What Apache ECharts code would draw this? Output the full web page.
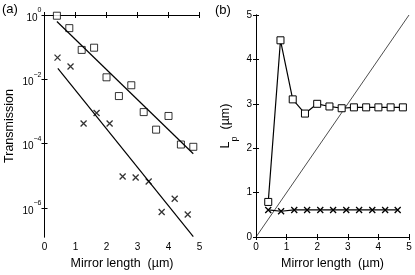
<!DOCTYPE html>
<html><head><meta charset="utf-8">
<script src="https://cdn.jsdelivr.net/npm/echarts@6/dist/echarts.min.js"></script>
<style>html,body{margin:0;padding:0;background:#fff}#c{width:415px;height:275px}</style>
</head><body><div id="c"></div>
<script>
// Panel (a): transmission vs mirror length
const sqX = [0.4, 0.8, 1.2, 1.6, 2.0, 2.4, 2.8, 3.2, 3.6, 4.0, 4.4, 4.8];
const sqT = [0.95, 0.39, 0.082, 0.096, 0.0115, 0.0030, 0.0065, 0.00095, 0.00027, 0.00072, 9.3e-5, 7.9e-5];
const crX = [0.42, 0.84, 1.26, 1.68, 2.1, 2.52, 2.94, 3.36, 3.78, 4.2, 4.62];
const crT = [0.047, 0.025, 4.2e-4, 8.9e-4, 4.2e-4, 9.4e-6, 8.7e-6, 6.6e-6, 7.4e-7, 1.9e-6, 6.2e-7];
const fitUpX = [0.4, 4.8];
const fitUpT = [0.63, 4.8e-5];
const fitLoX = [0.43, 4.8];
const fitLoT = [0.022, 1.26e-7];
const logTicks = [0, -2, -4, -6];
// Panel (b): Lp vs mirror length
const lpSqX = [0.4, 0.8, 1.2, 1.6, 2.0, 2.4, 2.8, 3.2, 3.6, 4.0, 4.4, 4.8];
const lpSq = [0.79, 4.43, 3.1, 2.78, 3.0, 2.94, 2.90, 2.92, 2.92, 2.92, 2.92, 2.92];
const lpCrX = [0.4, 0.82, 1.25, 1.67, 2.1, 2.52, 2.95, 3.37, 3.8, 4.22, 4.63];
const lpCr = [0.61, 0.58, 0.61, 0.61, 0.61, 0.61, 0.61, 0.61, 0.61, 0.61, 0.61];
const diagX = [0, 5];
const diagY = [0, 5];

const FONT = 'Liberation Sans';
const zip = (xs, ys, f) => xs.map((x, i) => [x, f ? f(ys[i]) : ys[i]]);
const lg = v => Math.log10(v);
const CROSS = 'path://M0,0L10,10M10,0L0,10';

const tickStyle = {show: true, inside: true, length: 3, lineStyle: {color: '#000', width: 1}};
const lineStyle = {show: true, lineStyle: {color: '#000', width: 1}};
const lbl = {color: '#000', fontFamily: FONT, fontSize: 10};
const nameStyle = {color: '#000', fontFamily: FONT, fontSize: 12.5};

function xAx(grid, pos, showLbl) {
  return {type: 'value', gridIndex: grid, position: pos, min: 0, max: 5, interval: 1,
    axisLine: lineStyle, axisTick: tickStyle, splitLine: {show: false},
    axisLabel: showLbl ? Object.assign({margin: 5}, lbl) : {show: false},
    name: showLbl ? 'Mirror length  (µm)' : '', nameLocation: 'middle', nameGap: 20,
    nameTextStyle: nameStyle};
}

const option = {
  animation: false,
  backgroundColor: '#fff',
  textStyle: {fontFamily: FONT},
  grid: [
    {left: 44.5, top: 15, width: 155, height: 229},
    {left: 256, top: 15, width: 153, height: 228.5}
  ],
  graphic: [
    {type: 'text', left: 2, top: 3, style: {text: '(a)', fontFamily: FONT, fontSize: 13, fill: '#000'}},
    {type: 'text', left: 215, top: 4, style: {text: '(b)', fontFamily: FONT, fontSize: 13, fill: '#000'}}
  ],
  xAxis: [xAx(0, 'bottom', true), xAx(1, 'bottom', true), xAx(0, 'top', false), xAx(1, 'top', false)],
  yAxis: [
    {type: 'value', gridIndex: 0, position: 'left', min: -6.91, max: 0,
      axisLine: lineStyle, splitLine: {show: false},
      axisTick: Object.assign({customValues: logTicks}, tickStyle),
      axisLabel: {customValues: logTicks, margin: 3,
        formatter: v => '{b|10}{s|' + (Math.round(v) === 0 ? '0' : '\u2212' + Math.abs(Math.round(v))) + '}',
        rich: {b: {fontFamily: FONT, fontSize: 10, color: '#000', lineHeight: 12, verticalAlign: 'bottom'},
               s: {fontFamily: FONT, fontSize: 7, color: '#000', lineHeight: 16, verticalAlign: 'top'}}},
      name: 'Transmission', nameLocation: 'middle', nameGap: 28, nameTextStyle: nameStyle},
    {type: 'value', gridIndex: 1, position: 'left', min: 0, max: 5, interval: 1,
      axisLine: lineStyle, axisTick: tickStyle, splitLine: {show: false},
      axisLabel: Object.assign({margin: 4}, lbl),
      name: '{l|L}{p|p}{u|  (µm)}', nameLocation: 'middle', nameGap: 17,
      nameTextStyle: Object.assign({rich: {
        l: {fontFamily: FONT, fontSize: 12.5, color: '#000', lineHeight: 14, verticalAlign: 'top'},
        p: {fontFamily: FONT, fontSize: 9, color: '#000', lineHeight: 20, verticalAlign: 'bottom'},
        u: {fontFamily: FONT, fontSize: 12.5, color: '#000', lineHeight: 14, verticalAlign: 'top'}}}, nameStyle)},
    {type: 'value', gridIndex: 0, position: 'right', min: -6.91, max: 0,
      axisLine: lineStyle, splitLine: {show: false},
      axisTick: Object.assign({customValues: logTicks}, tickStyle), axisLabel: {show: false}},
    {type: 'value', gridIndex: 1, position: 'right', min: 0, max: 5, interval: 1,
      axisLine: lineStyle, axisTick: tickStyle, splitLine: {show: false}, axisLabel: {show: false}}
  ],
  series: [
    {type: 'line', xAxisIndex: 0, yAxisIndex: 0, data: zip(fitUpX, fitUpT, lg), symbol: 'none',
      lineStyle: {color: '#000', width: 1.2}},
    {type: 'line', xAxisIndex: 0, yAxisIndex: 0, data: zip(fitLoX, fitLoT, lg), symbol: 'none',
      lineStyle: {color: '#000', width: 1.2}},
    {type: 'scatter', xAxisIndex: 0, yAxisIndex: 0, data: zip(sqX, sqT, lg), symbol: 'rect', symbolSize: 7,
      itemStyle: {color: '#fff', borderColor: '#000', borderWidth: 1}},
    {type: 'scatter', xAxisIndex: 0, yAxisIndex: 0, data: zip(crX, crT, lg), symbol: CROSS, symbolSize: 6,
      itemStyle: {color: 'none', borderColor: '#000', borderWidth: 1.3}},
    {type: 'line', xAxisIndex: 1, yAxisIndex: 1, data: zip(diagX, diagY), symbol: 'none',
      lineStyle: {color: '#000', width: 0.7}},
    {type: 'line', xAxisIndex: 1, yAxisIndex: 1, data: zip(lpSqX, lpSq), symbol: 'rect', symbolSize: 7,
      showAllSymbol: true,
      lineStyle: {color: '#000', width: 1.2}, itemStyle: {color: '#fff', borderColor: '#000', borderWidth: 1}},
    {type: 'line', xAxisIndex: 1, yAxisIndex: 1, data: zip(lpCrX, lpCr), symbol: CROSS, symbolSize: 6,
      showAllSymbol: true,
      lineStyle: {color: '#000', width: 1.2}, itemStyle: {color: 'none', borderColor: '#000', borderWidth: 1.3}}
  ]
};
const chart = echarts.init(document.getElementById('c'), null, {renderer: 'canvas'});
chart.setOption(option);
</script></body></html>
